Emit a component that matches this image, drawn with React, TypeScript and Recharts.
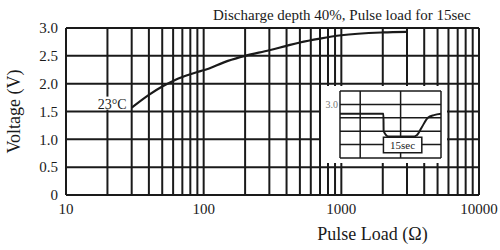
import React from 'react'
import { LineChart, Line, CartesianGrid, XAxis, YAxis, ReferenceDot, ReferenceArea, Label } from 'recharts'

// main curve: pulse load (ohm) vs voltage at 23C
const loads = [30, 40, 50, 60, 70, 80, 90, 100, 150, 200, 300, 400, 500, 700, 1000, 2000, 3000]
const voltages = [1.57, 1.8, 1.95, 2.05, 2.12, 2.17, 2.21, 2.24, 2.41, 2.5, 2.6, 2.68, 2.74, 2.81, 2.87, 2.92, 2.93]

const loadTicks = [
  10, 20, 30, 40, 50, 60, 70, 80, 90, 100, 200, 300, 400, 500, 600, 700, 800, 900, 1000, 2000, 3000, 4000, 5000, 6000,
  7000, 8000, 9000, 10000,
]
const loadLabels = [10, 100, 1000, 10000]
const voltageTicks = [0, 0.5, 1, 1.5, 2, 2.5, 3]

// inset: voltage during a 15 sec pulse
const pulseTime = [0, 21.5, 21.6, 24, 36, 38, 40.5, 43.5, 46.5, 50]
const pulseVoltage = [2.93, 2.93, 2.8, 2.76, 2.76, 2.77, 2.83, 2.9, 2.92, 2.93]
const pulseTimeTicks = [0, 10, 20, 30, 40, 50]
const pulseVoltTicks = [2.6, 2.7, 2.8, 2.9, 3.0, 3.1]

const serif = '"Liberation Serif", "Times New Roman", serif'
const ink = '#1a1a1a'

const curve = loads.map((load, i) => ({ load, voltage: voltages[i] }))
const pulse = pulseTime.map((t, i) => ({ t, v: pulseVoltage[i] }))

// temperature tag sits left of the curve start, on a white patch over the grid
const TempTag = (props: any) => {
  const vb = props.viewBox || {}
  const x = vb.x ?? 0
  const y = vb.y ?? 0
  return (
    <g>
      <rect x={x - 40} y={y - 11} width={36} height={13} fill="#fff" />
      <text x={x - 5} y={y + 1} textAnchor="end" fontSize={14} fill={ink} fontFamily={serif}>
        23°C
      </text>
    </g>
  )
}

const Inset = () => (
  <div style={{ position: 'absolute', left: 321, top: 86, width: 126, height: 77, background: '#fff' }}>
    <LineChart width={126} height={77} data={pulse} margin={{ top: 5, right: 6, bottom: 5, left: 4 }}>
      <CartesianGrid stroke={ink} strokeWidth={1.5} />
      <XAxis dataKey="t" type="number" domain={[0, 50]} ticks={pulseTimeTicks} hide />
      <YAxis
        type="number"
        domain={[2.6, 3.1]}
        ticks={pulseVoltTicks}
        width={15}
        axisLine={false}
        tickLine={false}
        tickSize={0}
        tickMargin={2}
        interval={0}
        tickFormatter={(v: number) => (Math.abs(v - 3) < 0.001 ? '3.0' : '')}
        tick={{ fontSize: 10, fill: '#777', fontFamily: serif }}
      />
      <ReferenceArea
        x1={21.5}
        x2={40.5}
        y1={2.64}
        y2={2.755}
        fill="#fff"
        fillOpacity={1}
        stroke={ink}
        strokeWidth={1.5}
        label={{ value: '15sec', position: 'center', fontSize: 11, fill: ink, fontFamily: serif }}
      />
      <Line type="monotone" dataKey="v" stroke={ink} strokeWidth={2} dot={false} isAnimationActive={false} />
    </LineChart>
  </div>
)

export default function App() {
  return (
    <div style={{ position: 'absolute', left: 0, top: 0, width: 500, height: 250, background: '#fff', fontFamily: serif }}>
      <LineChart width={500} height={250} data={curve} margin={{ top: 28, right: 21, bottom: 0, left: 0 }}>
        <CartesianGrid stroke={ink} strokeWidth={2} />
        <XAxis
          dataKey="load"
          type="number"
          scale="log"
          domain={[10, 10000]}
          ticks={loadTicks}
          interval={0}
          height={55}
          axisLine={false}
          tickLine={false}
          tickFormatter={(v: number) => (loadLabels.includes(v) ? String(v) : '')}
          tick={{ fontSize: 15, fill: ink, fontFamily: serif }}
        >
          <Label
            value="Pulse Load (Ω)"
            position="insideBottom"
            offset={10}
            dx={100}
            style={{ fontSize: 18, fill: ink, fontFamily: serif }}
          />
        </XAxis>
        <YAxis
          type="number"
          domain={[0, 3]}
          ticks={voltageTicks}
          interval={0}
          width={66}
          axisLine={false}
          tickLine={false}
          tickFormatter={(v: number) => (v === 0 ? '0' : v.toFixed(1))}
          tick={{ fontSize: 15, fill: ink, fontFamily: serif }}
        >
          <Label
            value="Voltage (V)"
            angle={-90}
            position="insideLeft"
            offset={14}
            style={{ fontSize: 18, fill: ink, fontFamily: serif, textAnchor: 'middle' }}
          />
        </YAxis>
        <ReferenceDot x={30} y={1.57} r={0} stroke="none" label={<TempTag />} />
        <Line type="monotone" dataKey="voltage" stroke={ink} strokeWidth={2.2} dot={false} isAnimationActive={false} />
      </LineChart>
      <div
        style={{
          position: 'absolute',
          left: 213,
          top: 6,
          fontSize: 15,
          lineHeight: '18px',
          color: ink,
          whiteSpace: 'nowrap',
        }}
      >
        Discharge depth 40%, Pulse load for 15sec
      </div>
      <Inset />
    </div>
  )
}
